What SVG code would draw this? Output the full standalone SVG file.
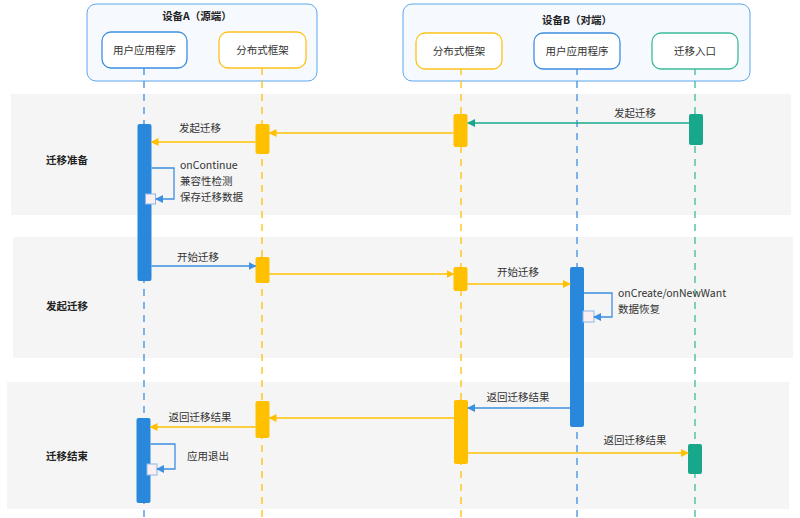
<svg xmlns="http://www.w3.org/2000/svg" width="800" height="518" viewBox="0 0 800 518">
<defs>
<style>
text{font-family:"Noto Sans CJK SC","Noto Sans",sans-serif;font-size:10.5px;fill:#333}
.t{text-anchor:middle}
.b{font-weight:bold;fill:#222}
.sec{fill:#f5f5f5}
.dev{fill:#f6faff;stroke:#5aa6ec;stroke-width:1}
.nb{fill:#fff;stroke:#3d8fe0;stroke-width:1.3}
.ny{fill:#fff;stroke:#ffc21a;stroke-width:1.3}
.ng{fill:#fff;stroke:#3dbb9a;stroke-width:1.3}
.ll{stroke-width:1.3;stroke-dasharray:7 6;fill:none}
.lb{stroke:#3d8fe0}.ly{stroke:#ffc000}.lg{stroke:#3dbb9a}
.ab{fill:#2a88dc}.ay{fill:#ffc000}.ag{fill:#17a88b}
.cb{stroke:#3d8fe0;stroke-width:1.3;fill:none;marker-end:url(#mb)}
.cy{stroke:#ffc000;stroke-width:1.3;fill:none;marker-end:url(#my)}
.cg{stroke:#17a88b;stroke-width:1.3;fill:none;marker-end:url(#mg)}
.sq{fill:#fdeff1;stroke:#8ab8e8;stroke-width:1}
</style>
<marker id="mb" markerWidth="8" markerHeight="8" refX="7" refY="4" orient="auto" markerUnits="userSpaceOnUse"><path d="M0,0L8,4L0,8z" fill="#3d8fe0"/></marker>
<marker id="my" markerWidth="8" markerHeight="8" refX="7" refY="4" orient="auto" markerUnits="userSpaceOnUse"><path d="M0,0L8,4L0,8z" fill="#ffc000"/></marker>
<marker id="mg" markerWidth="8" markerHeight="8" refX="7" refY="4" orient="auto" markerUnits="userSpaceOnUse"><path d="M0,0L8,4L0,8z" fill="#17a88b"/></marker>
</defs>
<rect width="800" height="518" fill="#fff"/>
<g id="sections">
<rect class="sec" x="11" y="94" width="780" height="121"/>
<rect class="sec" x="13" y="237" width="780" height="121"/>
<rect class="sec" x="7" y="382" width="782" height="127"/>
<text class="t b" x="67" y="164">迁移准备</text>
<text class="t b" x="67" y="310">发起迁移</text>
<text class="t b" x="67" y="460">迁移结束</text>
</g>
<g id="deviceA">
<rect class="dev" x="87" y="4" width="230" height="77" rx="9"/>
<text class="t b" x="197" y="20">设备A（源端）</text>
</g>
<g id="deviceB">
<rect class="dev" x="403" y="4" width="347" height="77" rx="9"/>
<text class="t b" x="577" y="24">设备B（对端）</text>
</g>
<g id="lifelines">
<path class="ll lb" d="M144,68V518"/>
<path class="ll ly" d="M262,68V518"/>
<path class="ll ly" d="M461,68V518"/>
<path class="ll lb" d="M577,68V518"/>
<path class="ll lg" d="M695,68V518"/>
</g>
<g id="nodeA-app"><rect class="nb" x="102" y="32" width="85" height="36" rx="9"/><text class="t" x="144.5" y="54">用户应用程序</text></g>
<g id="nodeA-fw"><rect class="ny" x="219" y="32" width="87" height="36" rx="9"/><text class="t" x="262.5" y="54">分布式框架</text></g>
<g id="nodeB-fw"><rect class="ny" x="416" y="33" width="86" height="36" rx="9"/><text class="t" x="459" y="55">分布式框架</text></g>
<g id="nodeB-app"><rect class="nb" x="534" y="33" width="86" height="36" rx="9"/><text class="t" x="577" y="55">用户应用程序</text></g>
<g id="node-entry"><rect class="ng" x="652" y="33" width="86" height="36" rx="9"/><text class="t" x="695" y="55">迁移入口</text></g>
<g id="activations">
<rect class="ab" x="137.5" y="124" width="14" height="157" rx="2"/>
<rect class="ay" x="255.5" y="124" width="14" height="30" rx="2"/>
<rect class="ay" x="453.5" y="114" width="14" height="33" rx="2"/>
<rect class="ag" x="689" y="114" width="14" height="31" rx="2"/>
<rect class="ay" x="255.5" y="257" width="14" height="26" rx="2"/>
<rect class="ay" x="453.5" y="267" width="14" height="24" rx="2"/>
<rect class="ab" x="570" y="267" width="14" height="160" rx="2"/>
<rect class="ay" x="454" y="400" width="14" height="64" rx="2"/>
<rect class="ay" x="255.5" y="401" width="14" height="37" rx="2"/>
<rect class="ab" x="136.5" y="418" width="14" height="85" rx="2"/>
<rect class="ag" x="688" y="444" width="14" height="30" rx="2"/>
<rect class="sq" x="145.5" y="194" width="10" height="10"/>
<rect class="sq" x="583" y="311" width="11" height="11"/>
<rect class="sq" x="147" y="464" width="10" height="11"/>
</g>
<g id="connectors">
<path class="cg" d="M689,123H468"/>
<path class="cy" d="M453.5,133H269.5"/>
<path class="cy" d="M255.5,142H151.5"/>
<path class="cb" d="M151.5,168H174V199H156"/>
<path class="cb" d="M151.5,266H255.5"/>
<path class="cy" d="M269.5,274H453.5"/>
<path class="cy" d="M467.5,284H570"/>
<path class="cb" d="M584,293H612V317H594"/>
<path class="cb" d="M570,408H468"/>
<path class="cy" d="M454,418H269.5"/>
<path class="cy" d="M255.5,427H150.5"/>
<path class="cb" d="M150.5,444H175V469H157"/>
<path class="cy" d="M468,453H688"/>
</g>
<g id="labels">
<text class="t" x="635" y="117">发起迁移</text>
<text class="t" x="200" y="132">发起迁移</text>
<text x="180" y="169">onContinue</text>
<text x="180" y="185">兼容性检测</text>
<text x="180" y="201">保存迁移数据</text>
<text class="t" x="198" y="261">开始迁移</text>
<text class="t" x="518" y="276">开始迁移</text>
<text x="618" y="297">onCreate/onNewWant</text>
<text x="618" y="313">数据恢复</text>
<text class="t" x="518" y="401">返回迁移结果</text>
<text class="t" x="200" y="421">返回迁移结果</text>
<text class="t" x="208" y="460">应用退出</text>
<text class="t" x="635" y="444">返回迁移结果</text>
</g>
</svg>
